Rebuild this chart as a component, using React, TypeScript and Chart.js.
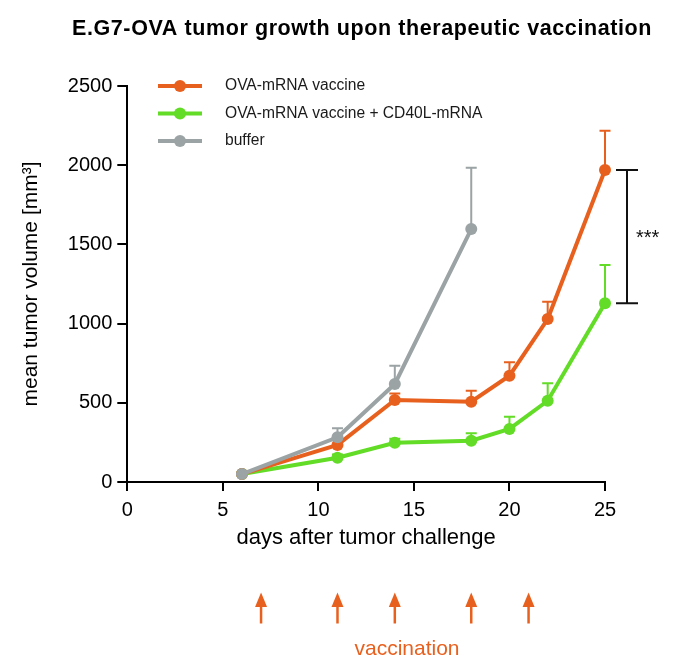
import React, { useEffect, useRef } from 'react';
import { Chart, registerables } from 'chart.js';

Chart.register(...registerables);

const FONT = "'Liberation Sans', Arial, Helvetica, sans-serif";

// ---- data ----
const titleText = 'E.G7-OVA tumor growth upon therapeutic vaccination';
const xAxisTitle = 'days after tumor challenge';
const yAxisTitle = 'mean tumor volume [mm³]';
const seriesLabels = ['OVA-mRNA vaccine', 'OVA-mRNA vaccine + CD40L-mRNA', 'buffer'];
const seriesColors = ['#e8601e', '#62dc26', '#9ba3a4'];

const ovaDays = [6, 11, 14, 18, 20, 22, 25];
const ovaMean = [50, 234, 518, 507, 671, 1029, 1970];
const ovaErr = [0, 35, 40, 69, 85, 109, 248];

const comboDays = [6, 11, 14, 18, 20, 22, 25];
const comboMean = [50, 153, 248, 261, 335, 513, 1128];
const comboErr = [0, 20, 25, 46, 77, 110, 242];

const bufferDays = [6, 11, 14, 18];
const bufferMean = [50, 282, 619, 1597];
const bufferErr = [0, 57, 115, 387];

const vaccinationDays = [7, 11, 14, 18, 21];
const vaccinationLabel = 'vaccination';
const significanceLabel = '***';

const xMin = 0, xMax = 25, xStep = 5;
const yMin = 0, yMax = 2500, yStep = 500;

const series = [
  { label: seriesLabels[0], color: seriesColors[0], days: ovaDays, mean: ovaMean, err: ovaErr, order: 1 },
  { label: seriesLabels[1], color: seriesColors[1], days: comboDays, mean: comboMean, err: comboErr, order: 2 },
  { label: seriesLabels[2], color: seriesColors[2], days: bufferDays, mean: bufferMean, err: bufferErr, order: 0 },
];

const errorBarsPlugin = {
  id: 'errorBars',
  beforeDatasetsDraw(chart: any) {
    const { ctx } = chart;
    const x = chart.scales.x;
    const y = chart.scales.y;
    ctx.save();
    ctx.lineWidth = 2;
    series.forEach((s) => {
      ctx.strokeStyle = s.color;
      s.days.forEach((d, i) => {
        const e = s.err[i];
        if (!e) return;
        const px = x.getPixelForValue(d);
        const y0 = y.getPixelForValue(s.mean[i]);
        const y1 = y.getPixelForValue(s.mean[i] + e);
        ctx.beginPath();
        ctx.moveTo(px, y0);
        ctx.lineTo(px, y1);
        ctx.moveTo(px - 5.5, y1);
        ctx.lineTo(px + 5.5, y1);
        ctx.stroke();
      });
    });
    ctx.restore();
  },
};

const extrasPlugin = {
  id: 'extras',
  afterDraw(chart: any) {
    const { ctx, chartArea } = chart;
    const x = chart.scales.x;
    const y = chart.scales.y;
    ctx.save();

    // title (letter-spaced like the reference)
    ctx.fillStyle = '#000';
    ctx.font = `bold 21.5px ${FONT}`;
    ctx.textAlign = 'left';
    ctx.textBaseline = 'alphabetic';
    const targetW = 580;
    const baseW = ctx.measureText(titleText).width;
    const spacing = (targetW - baseW) / titleText.length;
    let drawn = false;
    if ('letterSpacing' in ctx) {
      (ctx as any).letterSpacing = `${spacing}px`;
      const w2 = ctx.measureText(titleText).width;
      if (Math.abs(w2 - baseW) > 5) {
        ctx.fillText(titleText, 72, 34.5);
        drawn = true;
      }
      (ctx as any).letterSpacing = '0px';
    }
    if (!drawn) {
      ctx.save();
      ctx.translate(72, 34.5);
      ctx.scale(targetW / baseW, 1);
      ctx.fillText(titleText, 0, 0);
      ctx.restore();
    }

    // legend
    const rows = [86, 113.5, 141];
    series.forEach((s, i) => {
      const ry = rows[i];
      ctx.strokeStyle = s.color;
      ctx.lineWidth = 4;
      ctx.beginPath();
      ctx.moveTo(158, ry);
      ctx.lineTo(202, ry);
      ctx.stroke();
      ctx.fillStyle = s.color;
      ctx.beginPath();
      ctx.arc(180, ry, 6, 0, Math.PI * 2);
      ctx.fill();
      ctx.fillStyle = '#1a1a1a';
      ctx.font = `15.6px ${FONT}`;
      ctx.textAlign = 'left';
      ctx.textBaseline = 'middle';
      ctx.fillText(s.label, 225, ry);
    });

    // significance bracket between last points of series 0 and 1
    const top = y.getPixelForValue(ovaMean[ovaMean.length - 1]);
    const bot = y.getPixelForValue(comboMean[comboMean.length - 1]);
    const bx = chartArea.right + 22;
    ctx.strokeStyle = '#111';
    ctx.lineWidth = 2;
    ctx.beginPath();
    ctx.moveTo(bx, top);
    ctx.lineTo(bx, bot);
    ctx.moveTo(bx - 11, top);
    ctx.lineTo(bx + 11, top);
    ctx.moveTo(bx - 11, bot);
    ctx.lineTo(bx + 11, bot);
    ctx.stroke();
    ctx.fillStyle = '#111';
    ctx.font = `20px ${FONT}`;
    ctx.textAlign = 'left';
    ctx.textBaseline = 'alphabetic';
    ctx.fillText(significanceLabel, bx + 9, (top + bot) / 2 + 7.5);

    // vaccination arrows
    ctx.fillStyle = seriesColors[0];
    ctx.strokeStyle = seriesColors[0];
    vaccinationDays.forEach((d) => {
      const px = x.getPixelForValue(d);
      ctx.lineWidth = 2.5;
      ctx.beginPath();
      ctx.moveTo(px, 605);
      ctx.lineTo(px, 623.5);
      ctx.stroke();
      ctx.beginPath();
      ctx.moveTo(px, 592.5);
      ctx.lineTo(px - 6, 607);
      ctx.lineTo(px + 6, 607);
      ctx.closePath();
      ctx.fill();
    });
    ctx.font = `21px ${FONT}`;
    ctx.textAlign = 'center';
    ctx.textBaseline = 'alphabetic';
    ctx.fillText(vaccinationLabel, 407, 655);

    ctx.restore();
  },
};

export default function App() {
  const ref = useRef<HTMLCanvasElement>(null);

  useEffect(() => {
    const canvas = ref.current;
    if (!canvas) return;
    const chart = new Chart(canvas, {
      type: 'line',
      data: {
        datasets: series.map((s) => ({
          label: s.label,
          data: s.days.map((d, i) => ({ x: d, y: s.mean[i] })),
          borderColor: s.color,
          backgroundColor: s.color,
          pointBackgroundColor: s.color,
          pointBorderColor: s.color,
          pointBorderWidth: 0,
          pointRadius: 6,
          borderWidth: 4,
          tension: 0,
          fill: false,
          clip: false as any,
          order: s.order,
        })),
      },
      options: {
        responsive: false,
        animation: false,
        events: [],
        layout: { padding: { left: 0, right: 71, top: 86, bottom: 0 } },
        plugins: {
          legend: { display: false },
          tooltip: { enabled: false },
          title: { display: false },
        },
        scales: {
          x: {
            type: 'linear',
            min: xMin,
            max: xMax,
            ticks: {
              stepSize: xStep,
              color: '#000',
              padding: 7,
              maxRotation: 0,
              font: { family: FONT, size: 20 },
              callback: (v: any) => String(v),
            },
            grid: { display: true, drawOnChartArea: false, drawTicks: true, tickLength: 9, color: '#000', lineWidth: 2 },
            border: { display: true, color: '#000', width: 2 },
            title: {
              display: true,
              text: xAxisTitle,
              color: '#000',
              font: { family: FONT, size: 22 },
              padding: { top: 0, bottom: 120.4 },
            },
            afterFit: (s: any) => { s.height = 190; },
          },
          y: {
            type: 'linear',
            min: yMin,
            max: yMax,
            ticks: {
              stepSize: yStep,
              color: '#000',
              padding: 5,
              font: { family: FONT, size: 20 },
              callback: (v: any) => String(v),
            },
            grid: { display: true, drawOnChartArea: false, drawTicks: true, tickLength: 10, color: '#000', lineWidth: 2 },
            border: { display: true, color: '#000', width: 2 },
            title: {
              display: true,
              text: yAxisTitle,
              color: '#000',
              font: { family: FONT, size: 21 },
              padding: { top: 18.4, bottom: 0 },
            },
            afterFit: (s: any) => { s.width = 127.3; },
          },
        },
      },
      plugins: [errorBarsPlugin, extrasPlugin],
    } as any);
    return () => chart.destroy();
  }, []);

  return (
    <div style={{ position: 'absolute', left: 0, top: 0, width: 676, height: 672, background: '#fff' }}>
      <canvas ref={ref} width={676} height={672} />
    </div>
  );
}
